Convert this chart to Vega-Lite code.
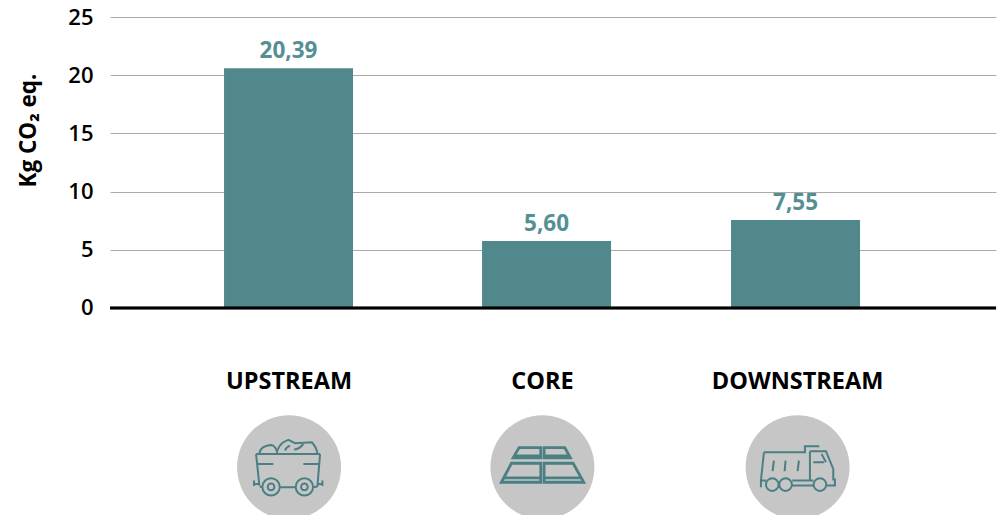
{
"$schema":"https://vega.github.io/schema/vega-lite/v6.json",
"width":886,"height":498,"autosize":"none",
"padding":{"left":110,"top":17,"right":6,"bottom":0},
"background":"white",
"view":{"stroke":null},
"config":{"font":"Open Sans"},
"data":{"values":[
{"stage":"UPSTREAM","slot":1,"iconSlot":1.002,"kg":20.6,"label":"20,39"},
{"stage":"CORE","slot":2,"iconSlot":1.984,"kg":5.75,"label":"5,60"},
{"stage":"DOWNSTREAM","slot":2.965,"iconSlot":2.973,"kg":7.55,"label":"7,55"}
]},
"encoding":{
"x":{"field":"slot","type":"quantitative","scale":{"domain":[0.308,3.742],"nice":false,"zero":false,"padding":0},"axis":null},
"y":{"field":"kg","type":"quantitative","scale":{"domain":[-17.784,25],"nice":false,"zero":false},
"axis":{"values":[0,5,10,15,20,25],"domain":false,"ticks":false,"grid":true,"gridColor":"#aaaaaa","gridWidth":1,
"labelFont":"Open Sans","labelFontSize":22,"labelFontWeight":600,"labelColor":"#000000","labelPadding":17,
"title":"Kg CO₂ eq.","titleFont":"Open Sans","titleFontSize":22.5,"titleFontWeight":700,"titleColor":"#000000","titleX":-70,"titleY":113,"titleAnchor":"middle","titleAlign":"center","titleAngle":-90}}
},
"layer":[
{"mark":{"type":"bar","size":129,"color":"#50888c"}},
{"mark":{"type":"rule","color":"#000000","strokeWidth":2.5},"encoding":{"x":{"value":0},"x2":{"value":886},"y":{"datum":0}}},
{"mark":{"type":"text","baseline":"alphabetic","dy":-10.5,"fontSize":22.5,"fontWeight":700,"font":"Open Sans","color":"#549093"},"encoding":{"text":{"field":"label"}}},
{"mark":{"type":"text","baseline":"middle","fontSize":23.5,"fontWeight":700,"font":"Open Sans","color":"#000000"},"encoding":{"x":{"field":"iconSlot","type":"quantitative"},"y":{"datum":-6.36},"text":{"field":"stage"}}},
{"mark":{"type":"point","shape":"circle","filled":true,"size":10816,"color":"#c6c6c6","opacity":1},"encoding":{"x":{"field":"iconSlot","type":"quantitative"},"y":{"datum":-13.68}}},
{"transform":[{"filter":"datum.stage==='UPSTREAM'"}],"mark":{"type":"point","filled":false,"size":0.4444,"color":"#4a7f83","opacity":1,"strokeWidth":2,"shape":"M-99,-40 L93,-40 M-99,-40 L-89,55 M93,-40 L85,58 M-95,-10 L-47,-10 M43,-10 L91,-10 M-29,60 L21,60 M-88,58 L-80,60 M72,60 L85,58 M-105,40 L-105,56 M-105,50 L-92,50 M100,40 L100,56 M100,50 L87,50 M-80,59 a26,26 0 1,0 52,0 a26,26 0 1,0 -52,0 M-64,59 a10,10 0 1,0 20,0 a10,10 0 1,0 -20,0 M20,59 a26,26 0 1,0 52,0 a26,26 0 1,0 -52,0 M36,59 a10,10 0 1,0 20,0 a10,10 0 1,0 -20,0 M-89,-40 Q-87,-65 -52,-67 Q-37,-60 -35,-40 M-35,-50 Q-27,-75 -2,-82 L18,-72 L68,-75 Q83,-60 85,-40 M-12,-50 Q-9,-60 3,-65 M15,-53 Q33,-55 43,-70"},"encoding":{"x":{"field":"iconSlot","type":"quantitative"},"y":{"datum":-13.68}}},
{"transform":[{"filter":"datum.stage==='CORE'"}],"mark":{"type":"point","filled":false,"size":0.4444,"color":"#4a7f83","opacity":1,"strokeWidth":2.8,"shape":"M-88,-28 L-70,-59 L-5,-59 L-5,-28 Z M-83,-34 L-5,-34 M5,-59 L67,-59 L84,-28 L5,-28 Z M5,-34 L80,-34 M-123,45 L-93,-12 L-5,-12 L-5,45 Z M-118,32 L-5,32 M5,-12 L92,-12 L124,45 L5,45 Z M5,32 L117,32"},"encoding":{"x":{"field":"iconSlot","type":"quantitative"},"y":{"datum":-13.68}}},
{"transform":[{"filter":"datum.stage==='DOWNSTREAM'"}],"mark":{"type":"point","filled":false,"size":0.4444,"color":"#4a7f83","opacity":1,"strokeWidth":2,"shape":"M-101,-45 L-110,40 L-110,60 M-101,-45 L22,-45 L22,-63 L65,-63 M37,-48 L85,-48 L107,5 L107,37 L112,37 L112,55 L87,55 M37,-48 L37,40 M-110,40 L-95,40 M-16,40 L47,40 M-16,55 L47,55 M47,-15 L79,-15 M72,-40 L85,-15 M-71,-20 L-75,12 M-36,-20 L-39,12 M4,-20 L0,12 M-95,52 a19,19 0 1,0 38,0 a19,19 0 1,0 -38,0 M-55,52 a19,19 0 1,0 38,0 a19,19 0 1,0 -38,0 M48,52 a19,19 0 1,0 38,0 a19,19 0 1,0 -38,0"},"encoding":{"x":{"field":"iconSlot","type":"quantitative"},"y":{"datum":-13.68}}}
]
}
